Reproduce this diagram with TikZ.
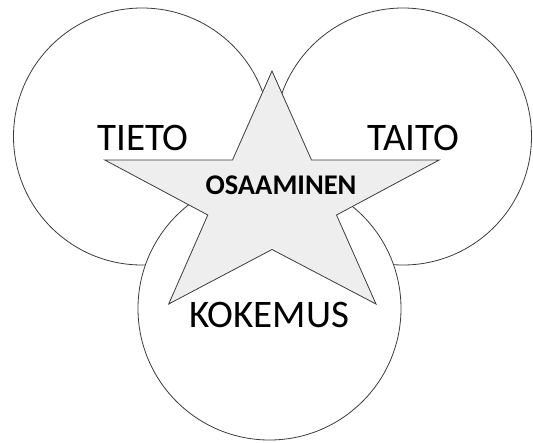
\documentclass[tikz,border=0pt]{standalone}
\usepackage{fontspec}
\setmainfont{Carlito}
\definecolor{linec}{HTML}{3C3C3C}
\definecolor{starfill}{HTML}{EEEEEE}
\begin{document}
\begin{tikzpicture}[x=1pt,y=-1pt,
  circ/.style={circle,draw=linec,line width=0.8pt,fill=white,minimum size=#1,inner sep=0pt},
  starshape/.style={draw=linec,line width=0.8pt,fill=starfill,line join=miter},
  big/.style={anchor=base,inner sep=0pt,font=\fontsize{39}{40}\selectfont},
  mid/.style={anchor=base,inner sep=0pt,font=\fontsize{28.5}{30}\selectfont\bfseries}]
\useasboundingbox (0,0) rectangle (533,442);
\node[circ=257pt] (cTieto) at (142,136.5) {};
\node[circ=257pt] (cTaito) at (403,136.5) {};
\node[circ=263pt] (cKokemus) at (269.5,308.5) {};
\draw[starshape] (272,71) -- (311.5,160) -- (439.2,160) -- (336.5,215)
  -- (376,304) -- (272,249.5) -- (168.7,304) -- (207.8,215)
  -- (104.8,160) -- (232.5,160) -- cycle;
\node[big] (tieto) at (143,150) {TIETO};
\node[big] (taito) at (413.5,150) {TAITO};
\node[big] (kokemus) at (269,327) {KOKEMUS};
\node[mid] (osaaminen) at (281,194.5) {OSAAMINEN};
\end{tikzpicture}
\end{document}
